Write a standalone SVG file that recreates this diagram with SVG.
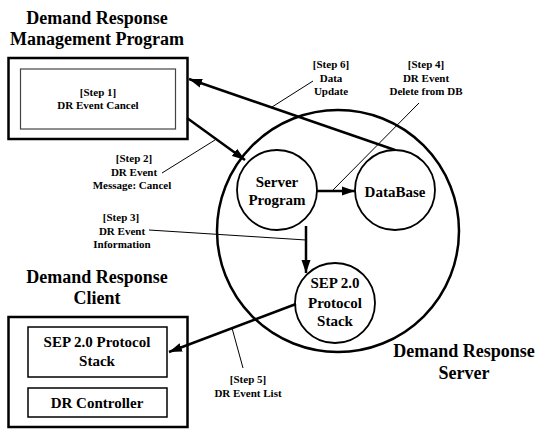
<svg xmlns="http://www.w3.org/2000/svg" width="537" height="429" viewBox="0 0 537 429">
  <defs>
    <marker id="arrow" markerUnits="userSpaceOnUse" markerWidth="14" markerHeight="10" refX="13" refY="5" orient="auto">
      <path d="M0,0.5 L13,5 L0,9.5 Z" fill="#000"/>
    </marker>
  </defs>
  <style>
    .title { font-family: "Liberation Serif", "Times New Roman", serif; font-weight: bold; font-size: 18px; fill: #000; text-anchor: middle; }
    .node { font-family: "Liberation Serif", "Times New Roman", serif; font-weight: bold; font-size: 15px; fill: #000; text-anchor: middle; }
    .lbl { font-family: "Liberation Serif", "Times New Roman", serif; font-weight: bold; font-size: 11px; fill: #000; text-anchor: middle; }
    .outer { fill: none; stroke: #000; stroke-width: 2.5; }
    .inner { fill: #fff; stroke: #000; stroke-width: 1.5; }
    .thin { fill: #fff; stroke: #444; stroke-width: 1.2; }
    .circ { fill: #fff; stroke: #000; stroke-width: 1.8; }
    .flow { fill: none; stroke: #000; stroke-width: 2.5; marker-end: url(#arrow); }
    .leader { fill: none; stroke: #000; stroke-width: 1; }
  </style>
  <rect width="537" height="429" fill="#fff"/>

  <!-- Server boundary -->
  <g id="dr-server">
    <circle cx="338" cy="231" r="121" fill="none" stroke="#000" stroke-width="2.5"/>
    <text class="title" x="464" y="357">Demand Response</text>
    <text class="title" x="464" y="379">Server</text>
  </g>

  <!-- Management program -->
  <g id="dr-management">
    <text class="title" x="97" y="24">Demand Response</text>
    <text class="title" x="97" y="45">Management Program</text>
    <rect class="outer" x="8.5" y="58" width="179" height="81"/>
    <rect class="thin" x="20.5" y="69" width="155" height="60"/>
    <text class="lbl" x="98" y="96">[Step 1]</text>
    <text class="lbl" x="98" y="109">DR Event Cancel</text>
  </g>

  <!-- Client -->
  <g id="dr-client">
    <text class="title" x="97" y="283">Demand Response</text>
    <text class="title" x="97" y="304">Client</text>
    <rect class="outer" x="8.5" y="317" width="179" height="110"/>
    <rect class="inner" x="28" y="327" width="139" height="50"/>
    <text class="node" x="97" y="347">SEP 2.0 Protocol</text>
    <text class="node" x="97" y="366">Stack</text>
    <rect class="inner" x="28" y="388" width="139" height="29"/>
    <text class="node" x="97" y="408">DR Controller</text>
  </g>

  <g id="server-program">
    <circle class="circ" cx="277" cy="190" r="40"/>
    <text class="node" x="277" y="187">Server</text>
    <text class="node" x="277" y="205">Program</text>
  </g>

  <g id="database">
    <circle class="circ" cx="395" cy="190" r="40"/>
    <text class="node" x="395" y="197">DataBase</text>
  </g>

  <g id="sep-stack">
    <circle class="circ" cx="335" cy="303" r="40"/>
    <text class="node" x="335" y="288">SEP 2.0</text>
    <text class="node" x="335" y="308">Protocol</text>
    <text class="node" x="335" y="326">Stack</text>
  </g>

  <!-- Connectors -->
  <g id="connectors">
    <line class="flow" x1="187" y1="118" x2="245" y2="160"/>
    <line class="flow" x1="395" y1="150" x2="189" y2="79"/>
    <line class="flow" x1="317" y1="191" x2="355" y2="191"/>
    <line class="flow" x1="306" y1="226" x2="306" y2="273"/>
    <line class="flow" x1="296" y1="304" x2="169" y2="352"/>

    <line class="leader" x1="272" y1="107" x2="313" y2="81"/>
    <line class="leader" x1="419" y1="103" x2="332" y2="191"/>
    <line class="leader" x1="162" y1="173" x2="215" y2="140"/>
    <line class="leader" x1="149" y1="230" x2="306" y2="240"/>
    <line class="leader" x1="243" y1="368" x2="232" y2="328"/>
  </g>

  <!-- Step labels -->
  <g id="labels">
    <text class="lbl" x="331" y="68">[Step 6]</text>
    <text class="lbl" x="331" y="81.5">Data</text>
    <text class="lbl" x="331" y="95">Update</text>
    <text class="lbl" x="426" y="68">[Step 4]</text>
    <text class="lbl" x="426" y="81.5">DR Event</text>
    <text class="lbl" x="426" y="95">Delete from DB</text>
    <text class="lbl" x="134" y="162">[Step 2]</text>
    <text class="lbl" x="134" y="176">DR Event</text>
    <text class="lbl" x="132" y="189">Message: Cancel</text>
    <text class="lbl" x="121" y="221">[Step 3]</text>
    <text class="lbl" x="122" y="235">DR Event</text>
    <text class="lbl" x="122" y="248">Information</text>
    <text class="lbl" x="248" y="383">[Step 5]</text>
    <text class="lbl" x="248" y="397">DR Event List</text>
  </g>
</svg>
